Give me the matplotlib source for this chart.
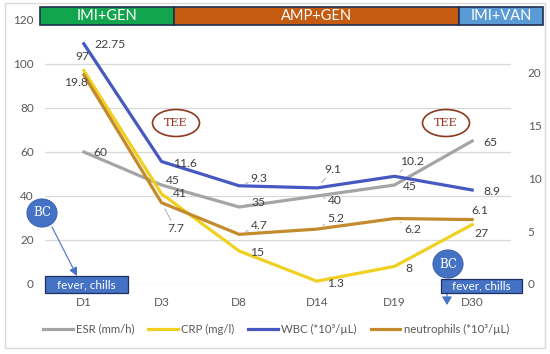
import matplotlib
matplotlib.use("Agg")
import matplotlib.pyplot as plt
from matplotlib.patches import Rectangle, Ellipse
from matplotlib.lines import Line2D

plt.rcParams["font.family"] = ["Lato", "DejaVu Sans"]

# --- DATA ---
days = ["D1", "D3", "D8", "D14", "D19", "D30"]
esr = [60, 45, 35, 40, 45, 65]
crp = [97, 41, 15, 1.3, 8, 27]
wbc = [22.75, 11.6, 9.3, 9.1, 10.2, 8.9]
neutrophils = [19.8, 7.7, 4.7, 5.2, 6.2, 6.1]
left_ticks = [0, 20, 40, 60, 80, 100, 120]
right_ticks = [0, 5, 10, 15, 20]
therapies = ["IMI+GEN", "AMP+GEN", "IMI+VAN"]
series_names = ["ESR (mm/h)", "CRP (mg/l)", "WBC (*10³/µL)", "neutrophils (*10³/µL)"]

# label offsets in pixels (dx, dy) and whether a leader line is drawn
esr_off = [(17, -1, 0), (11, 4, 0), (19, 5, 1), (18, -5, 1), (15, -1, 0), (18, -2, 0)]
crp_off = [(-1, 14, 0), (18, 0, 0), (18, -2, 0), (19, -2, 0), (14, -2, 0), (9, -9, 0)]
wbc_off = [(26, -1, 0), (23, -2, 0), (20, 7, 1), (16, 18, 1), (18, 15, 1), (20, -1, 0)]
neu_off = [(-8, -8, 0), (14, -26, 1), (20, 9, 1), (19, 11, 1), (18, -11, 1), (8, 9, 0)]

# colours
c_esr = "#A5A5A5"
c_crp = "#F0D020"
c_wbc = "#4658C2"
c_neu = "#C38A2E"
c_txt = "#595959"
c_lbl = "#404040"
c_box = "#4472C4"

W, H = 550, 354


def fr(x, y):
    """pixel (top-left origin) -> figure fraction"""
    return x / W, 1 - y / H


fig = plt.figure(figsize=(W / 100, H / 100), dpi=100)

x0, y0 = fr(45, 284)
x1, y1 = fr(511, 20)
ax = fig.add_axes([x0, y0, x1 - x0, y1 - y0])
ax2 = ax.twinx()

xs = list(range(len(days)))
ax.set_xlim(-0.5, len(days) - 0.5)
ax.set_ylim(0, 120)
ax2.set_ylim(0, 25)

ax.set_yticks(left_ticks)
ax2.set_yticks(right_ticks)
ax.set_xticks(xs)
ax.set_xticklabels(days)
ax.grid(axis="y", color="#D9D9D9", linewidth=0.9)
ax.set_axisbelow(True)
for a in (ax, ax2):
    for s in a.spines.values():
        s.set_visible(False)
    a.tick_params(length=0, labelsize=8.5, labelcolor=c_txt)
ax.tick_params(axis="y", pad=8)
ax2.tick_params(axis="y", pad=12)
ax.tick_params(axis="x", pad=9)

lw = 2.3
ax.plot(xs, esr, color=c_esr, lw=lw, solid_joinstyle="round")
ax.plot(xs, crp, color=c_crp, lw=lw, solid_joinstyle="round")
ax2.plot(xs, wbc, color=c_wbc, lw=lw, solid_joinstyle="round")
ax2.plot(xs, neutrophils, color=c_neu, lw=lw, solid_joinstyle="round")


def add_labels(axis, values, offsets):
    for x, v, (dx, dy, lead) in zip(xs, values, offsets):
        props = None
        if lead:
            props = dict(arrowstyle="-", color="#A0A0A0", lw=0.6, shrinkA=0, shrinkB=5)
        axis.annotate(f"{v:g}", xy=(x, v), xytext=(dx, dy), textcoords="offset pixels",
                      ha="center", va="center", fontsize=8.7, color=c_lbl,
                      arrowprops=props, zorder=6)


add_labels(ax, esr, esr_off)
add_labels(ax, crp, crp_off)
add_labels(ax2, wbc, wbc_off)
add_labels(ax2, neutrophils, neu_off)

# --- outer frame ---
bx, by = fr(5, 348)
ex, ey = fr(545, 3)
fig.patches.append(Rectangle((bx, by), ex - bx, ey - by, transform=fig.transFigure,
                             fill=False, edgecolor="#D9D9D9", lw=1))

# --- therapy header bar ---
bar_edges = [40, 174, 459, 543]
bar_colors = ["#12A54E", "#C55A11", "#5B9BD5"]
for i, name in enumerate(therapies):
    lx, ly = fr(bar_edges[i], 25)
    rx, ty = fr(bar_edges[i + 1], 7)
    fig.patches.append(Rectangle((lx, ly), rx - lx, ty - ly, transform=fig.transFigure,
                                 facecolor=bar_colors[i], edgecolor="#1F2F4F", lw=1.2,
                                 zorder=5))
    fig.text((lx + rx) / 2, (ly + ty) / 2, name, ha="center", va="center",
             color="white", fontsize=10.5, zorder=6)

# --- TEE ellipses ---
for cx in (176, 446):
    ex_, ey_ = fr(cx, 123)
    fig.patches.append(Ellipse((ex_, ey_), 47 / W, 27 / H, transform=fig.transFigure,
                               facecolor="white", edgecolor="#8B3A1E", lw=1.2, zorder=7))
    fig.text(ex_, ey_, "TEE", ha="center", va="center", color="#A03020",
             fontsize=8, family="DejaVu Serif", zorder=8)

# --- BC circles, arrows and fever boxes ---
for cx, cy in ((42, 213), (448, 264)):
    px_, py_ = fr(cx, cy)
    fig.patches.append(Ellipse((px_, py_), 30 / W, 28 / H, transform=fig.transFigure,
                               facecolor=c_box, edgecolor="#3A62B0", lw=0.8, zorder=7))
    fig.text(px_, py_, "BC", ha="center", va="center", color="white",
             fontsize=8.5, family="DejaVu Serif", zorder=8)

for (l, t, r, b) in ((45, 276, 128, 293), (441, 279, 522, 293)):
    lx, ly = fr(l, b)
    rx, ty = fr(r, t)
    fig.patches.append(Rectangle((lx, ly), rx - lx, ty - ly, transform=fig.transFigure,
                                 facecolor=c_box, edgecolor="#1F2F5F", lw=0.9, zorder=7))
    fig.text((lx + rx) / 2, (ly + ty) / 2, "fever, chills", ha="center", va="center",
             color="white", fontsize=8.5, zorder=8)

ax.annotate("", xy=(77, H - 276), xycoords="figure pixels", xytext=(52, H - 227),
            textcoords="figure pixels",
            arrowprops=dict(arrowstyle="-|>,head_length=0.5,head_width=0.25", color=c_box,
                            lw=0.8, shrinkA=0, shrinkB=0), zorder=9)
ax.annotate("", xy=(447, H - 305), xycoords="figure pixels", xytext=(447, H - 293),
            textcoords="figure pixels",
            arrowprops=dict(arrowstyle="-|>,head_length=0.5,head_width=0.3", color=c_box,
                            lw=0.8, shrinkA=0, shrinkB=0), zorder=9)

# --- legend ---
handles = [Line2D([], [], color=c, lw=lw) for c in (c_esr, c_crp, c_wbc, c_neu)]
lx, ly = fr(276, 329)
leg = fig.legend(handles, series_names, loc="center", bbox_to_anchor=(lx, ly), ncol=4,
                 frameon=False, fontsize=8.2, handlelength=2.6, columnspacing=1.2,
                 handletextpad=0.3)
for t in leg.get_texts():
    t.set_color(c_txt)

fig.savefig("out.png", dpi=100)
